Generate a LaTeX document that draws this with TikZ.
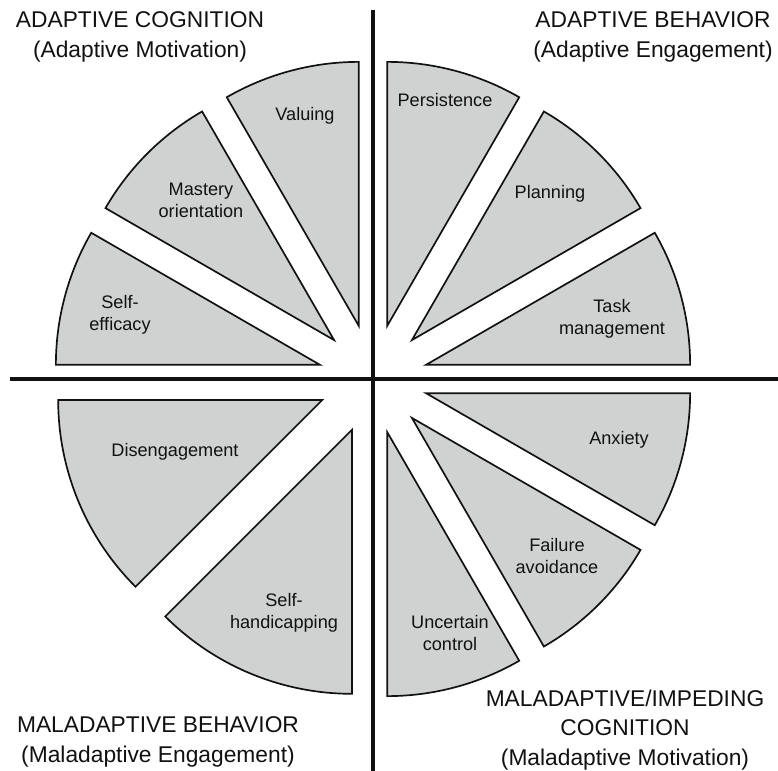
\documentclass[tikz,border=0pt]{standalone}
\usepackage{fontspec}
\setmainfont{Liberation Sans}
\usepackage{tikz}
\definecolor{wedgegray}{HTML}{D0D2D2}
\definecolor{inkblack}{HTML}{111111}

\begin{document}
\begin{tikzpicture}[x=0.025cm,y=0.025cm,
 wedge/.style={draw=inkblack,fill=wedgegray,line width=1.2pt,line join=miter},
 axis/.style={draw=inkblack,line width=2.9pt},
 wlabel/.style={align=center,font=\fontsize{12.9}{15.5}\selectfont,text=inkblack},
 quadtitle/.style={align=center,font=\fontsize{16.2}{21}\selectfont,text=inkblack}]
\useasboundingbox (-373,-392) rectangle (405,379);
\draw[axis] (0,369) -- (0,-392);
\draw[axis] (-363,0) -- (405,0);
\draw[wedge,shift={(15:55)}] (0,0) -- (0:264) arc[start angle=0,end angle=30,radius=264] -- cycle;
\draw[wedge,shift={(45:55)}] (0,0) -- (30:264) arc[start angle=30,end angle=60,radius=264] -- cycle;
\draw[wedge,shift={(75:55)}] (0,0) -- (60:264) arc[start angle=60,end angle=90,radius=264] -- cycle;
\draw[wedge,shift={(105:55)}] (0,0) -- (90:264) arc[start angle=90,end angle=120,radius=264] -- cycle;
\draw[wedge,shift={(135:55)}] (0,0) -- (120:264) arc[start angle=120,end angle=150,radius=264] -- cycle;
\draw[wedge,shift={(165:55)}] (0,0) -- (150:264) arc[start angle=150,end angle=180,radius=264] -- cycle;
\draw[wedge,shift={(202.5:55)}] (0,0) -- (180:264) arc[start angle=180,end angle=225,radius=264] -- cycle;
\draw[wedge,shift={(247.5:55)}] (0,0) -- (225:264) arc[start angle=225,end angle=270,radius=264] -- cycle;
\draw[wedge,shift={(285:55)}] (0,0) -- (270:264) arc[start angle=270,end angle=300,radius=264] -- cycle;
\draw[wedge,shift={(315:55)}] (0,0) -- (300:264) arc[start angle=300,end angle=330,radius=264] -- cycle;
\draw[wedge,shift={(345:55)}] (0,0) -- (330:264) arc[start angle=330,end angle=360,radius=264] -- cycle;
\node[wlabel] (taskmgmt) at (239,60) {Task\\management};
\node[wlabel] (planning) at (177,185) {Planning};
\node[wlabel] (persistence) at (72,279) {Persistence};
\node[wlabel] (valuing) at (-68,263) {Valuing};
\node[wlabel] (mastery) at (-172,179) {Mastery\\orientation};
\node[wlabel] (selfefficacy) at (-253,64) {Self-\\efficacy};
\node[wlabel] (diseng) at (-198,-73) {Disengagement};
\node[wlabel] (selfhand) at (-89,-234) {Self-\\handicapping};
\node[wlabel] (uncertain) at (77,-254) {Uncertain\\control};
\node[wlabel] (failure) at (184,-177) {Failure\\avoidance};
\node[wlabel] (anxiety) at (246,-61) {Anxiety};
\node[quadtitle] (adcog) at (-233,342) {ADAPTIVE COGNITION\\(Adaptive Motivation)};
\node[quadtitle] (adbeh) at (280,342) {ADAPTIVE BEHAVIOR\\(Adaptive Engagement)};
\node[quadtitle] (malbeh) at (-215,-363) {MALADAPTIVE BEHAVIOR\\(Maladaptive Engagement)};
\node[quadtitle] (malcog) at (252,-351) {MALADAPTIVE/IMPEDING\\COGNITION\\(Maladaptive Motivation)};
\end{tikzpicture}
\end{document}
